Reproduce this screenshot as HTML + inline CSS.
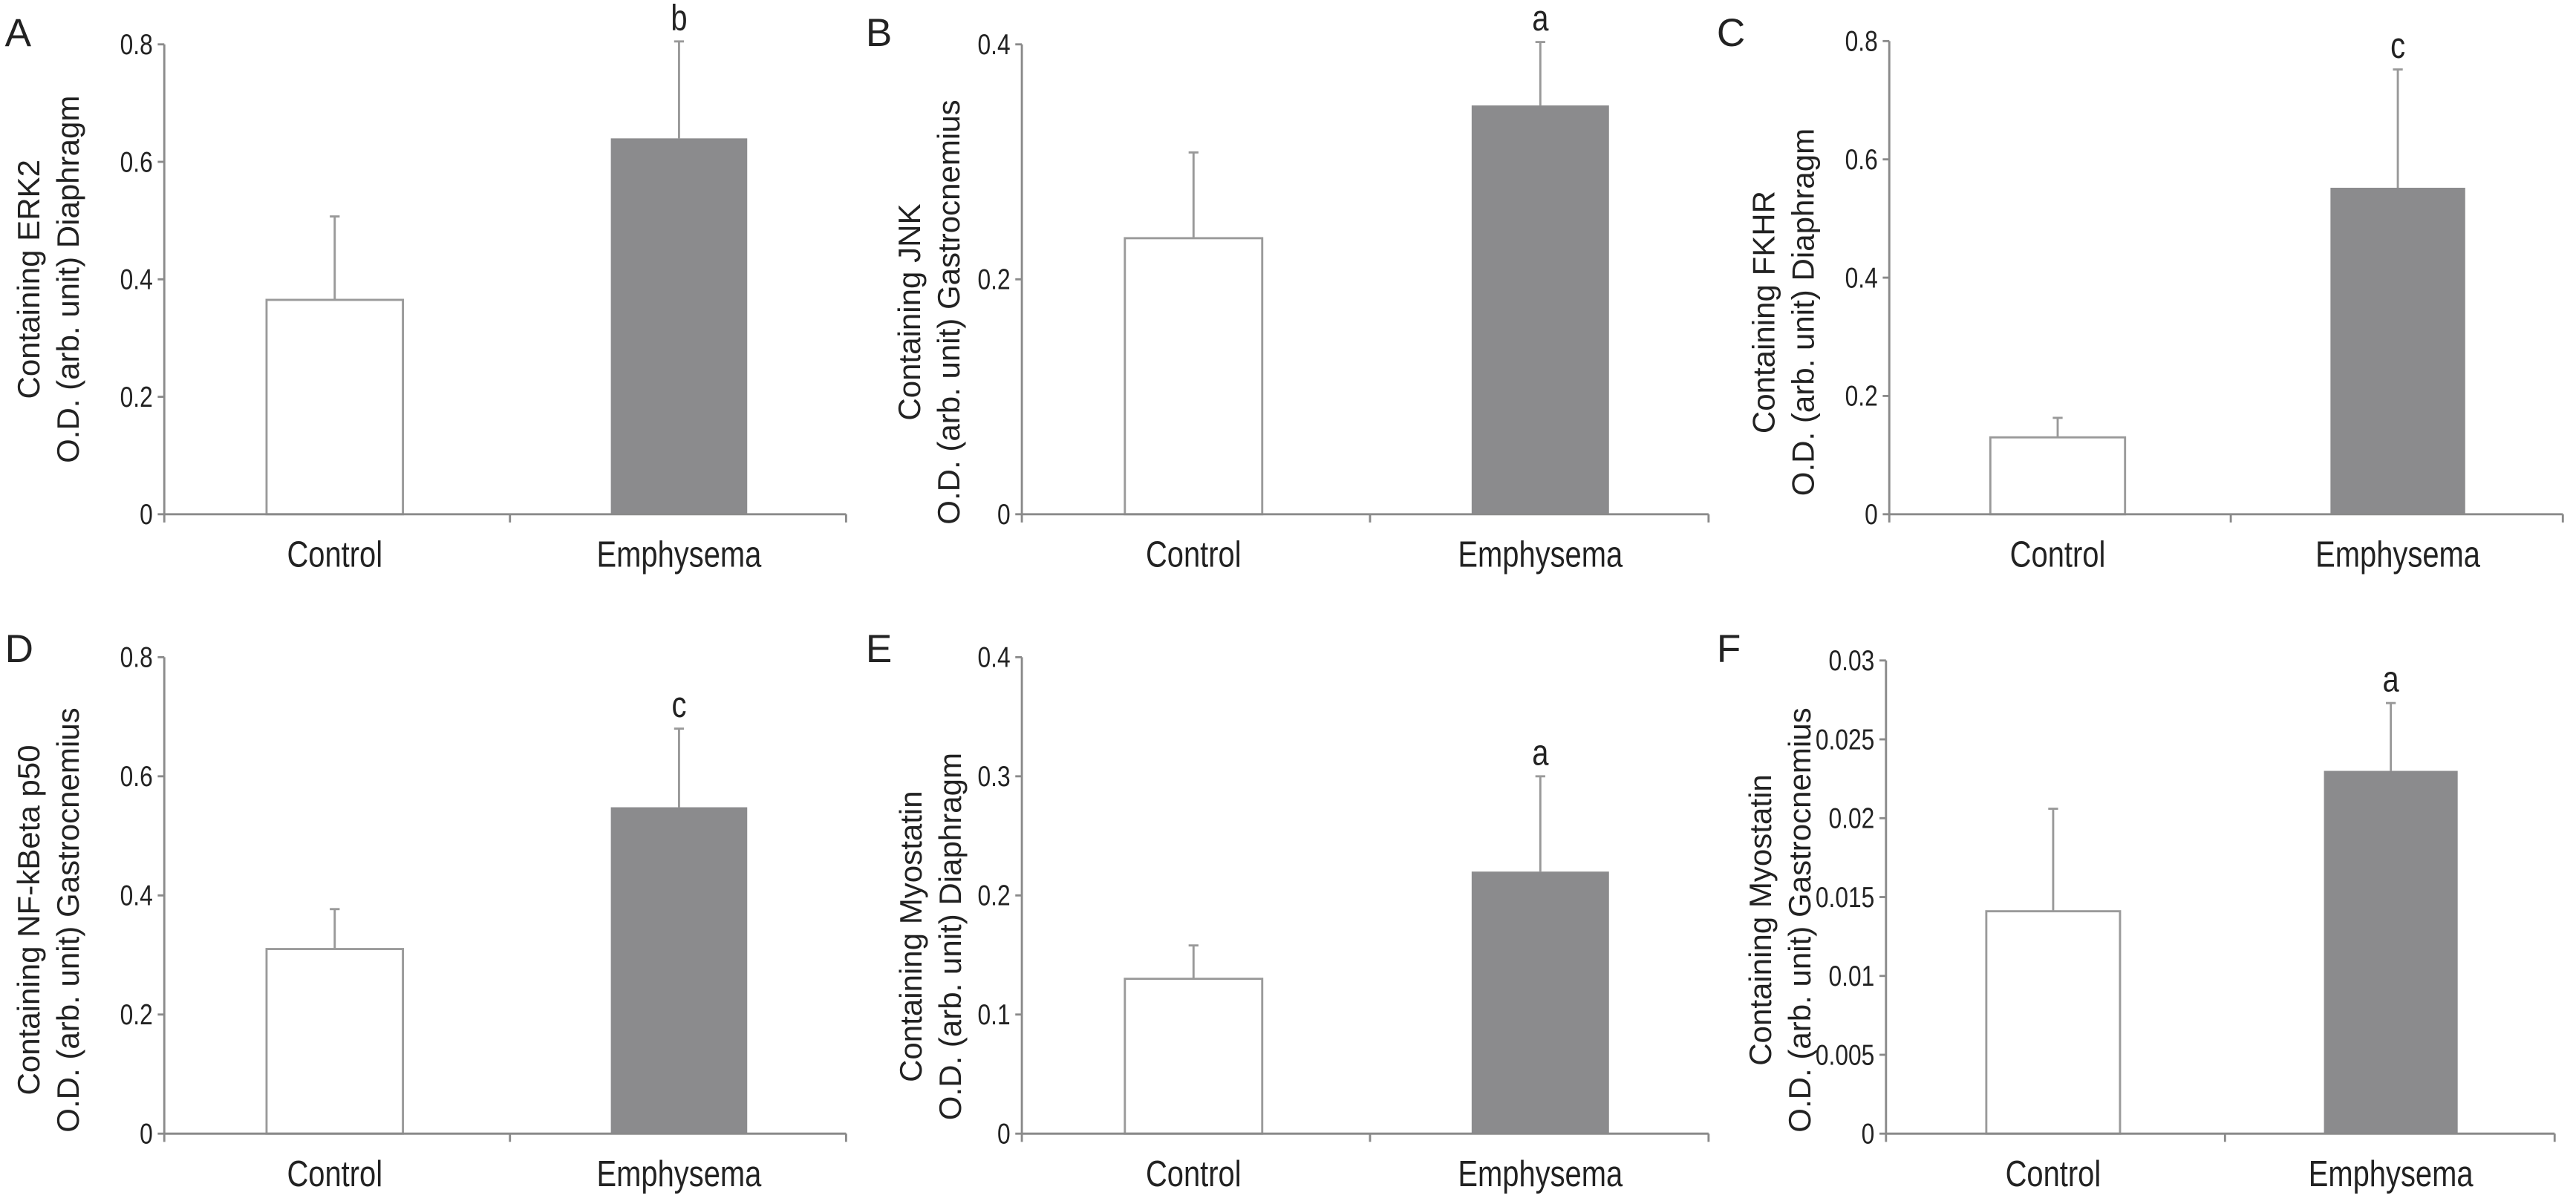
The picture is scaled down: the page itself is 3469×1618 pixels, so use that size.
<!DOCTYPE html>
<html><head><meta charset="utf-8"><style>
html,body{margin:0;padding:0;background:#fff;}
svg{display:block;}
text{font-family:"Liberation Sans Narrow","Liberation Sans",sans-serif;fill:#222;}
</style></head><body>
<svg id="fig" width="3469" height="1618" viewBox="0 0 1568 731" preserveAspectRatio="none"></svg>
<script>
const panelLetters = ["A","B","C","D","E","F"];
const categories = ["Control","Emphysema"];
const titleLine1 = ["Containing ERK2","Containing JNK","Containing FKHR","Containing NF-kBeta p50","Containing Myostatin","Containing Myostatin"];
const titleLine2 = ["O.D. (arb. unit) Diaphragm","O.D. (arb. unit) Gastrocnemius","O.D. (arb. unit) Diaphragm","O.D. (arb. unit) Gastrocnemius","O.D. (arb. unit) Diaphragm","O.D. (arb. unit) Gastrocnemius"];
const controlValues = [0.365, 0.235, 0.13, 0.31, 0.13, 0.0141];
const controlErrTop = [0.507, 0.308, 0.163, 0.377, 0.158, 0.0206];
const emphValues = [0.64, 0.348, 0.552, 0.548, 0.22, 0.023];
const emphErrTop = [0.805, 0.402, 0.752, 0.68, 0.30, 0.0273];
const sigLetters = ["b","a","c","c","a","a"];
const yMax = [0.8, 0.4, 0.8, 0.8, 0.4, 0.03];
const tickLabels = [
  ["0","0.2","0.4","0.6","0.8"],
  ["0","0.2","0.4"],
  ["0","0.2","0.4","0.6","0.8"],
  ["0","0.2","0.4","0.6","0.8"],
  ["0","0.1","0.2","0.3","0.4"],
  ["0","0.005","0.01","0.015","0.02","0.025","0.03"]
];
// layout (not data)
const layout = [
  {ax:100,x1:515,top:27,zero:313,lx:3,ly:28,tx:18,ty:170},
  {ax:622,x1:1040,top:27,zero:313,lx:527,ly:28,tx:554,ty:190},
  {ax:1150,x1:1560,top:25,zero:313,lx:1045,ly:28,tx:1074,ty:190},
  {ax:100,x1:515,top:400,zero:690,lx:3,ly:403,tx:18,ty:560},
  {ax:622,x1:1040,top:400,zero:690,lx:527,ly:403,tx:555,ty:570},
  {ax:1148,x1:1555,top:402,zero:690,lx:1045,ly:403,tx:1072,ty:560}
];
const NS="http://www.w3.org/2000/svg";
const svg=document.getElementById('fig');
function mk(tag,attrs,parent){const e=document.createElementNS(NS,tag);for(const k in attrs)e.setAttribute(k,attrs[k]);(parent||svg).appendChild(e);return e;}
function ctext(parent,x,y,anchor,size,str){
  const gg=mk('g',{transform:`translate(${x},${y}) scale(0.82,1)`},parent);
  const t=mk('text',{x:0,y:0,'text-anchor':anchor,'font-size':size},gg);t.textContent=str;return t;
}
for(let p=0;p<6;p++){
  const L=layout[p];
  const g=mk('g',{});
  
  
  const y=v=>L.zero-(v/yMax[p])*(L.zero-L.top);
  const w=L.x1-L.ax;
  const xf=f=>L.ax+f*w;
  const lt=mk('text',{x:L.lx,y:L.ly,'font-size':24},g);lt.textContent=panelLetters[p];
  
  
  const tg=mk('text',{transform:`translate(${L.tx},${L.ty}) rotate(-90)`,'text-anchor':'middle','font-size':19},g);
  
  
  const t1=mk('tspan',{x:0,y:6},tg);t1.textContent=titleLine1[p];
  const t2=mk('tspan',{x:0,y:30},tg);t2.textContent=titleLine2[p];
  const ya=mk('line',{x1:L.ax,y1:L.top,x2:L.ax,y2:L.zero+5,stroke:'#8a8a8a','stroke-width':1.3},g);
  
  
  const n=tickLabels[p].length;
  for(let i=0;i<n;i++){
    const v=yMax[p]*i/(n-1);const yy=y(v);
    mk('line',{x1:L.ax-4,y1:yy,x2:L.ax,y2:yy,stroke:'#8a8a8a','stroke-width':1.3},g);
    const tl=ctext(g,L.ax-7,yy+6,'end',17.5,tickLabels[p][i]);
    
    
  }
  const cx=[0.25,0.755];const bw=0.2*w;
  const vals=[controlValues[p],emphValues[p]];const errs=[controlErrTop[p],emphErrTop[p]];
  for(let c=0;c<2;c++){
    const x=xf(cx[c]);
    const el=mk('line',{x1:x,y1:y(errs[c]),x2:x,y2:y(vals[c]),stroke:'#999','stroke-width':1.3},g);
    
    
    mk('line',{x1:x-3,y1:y(errs[c]),x2:x+3,y2:y(errs[c]),stroke:'#999','stroke-width':1.3},g);
    const r=mk('rect',{x:x-bw/2,y:y(vals[c]),width:bw,height:L.zero-y(vals[c]),fill:c?'#8b8b8d':'#fff',stroke:c?'none':'#9a9a9a','stroke-width':1.3},g);
    
    
    const cl=ctext(g,x,L.zero+32,'middle',22,categories[c]);
    
    
  }
  const sl=ctext(g,xf(0.755),y(emphErrTop[p])-7,'middle',22,sigLetters[p]);
  
  
  const xa=mk('line',{x1:L.ax,y1:L.zero,x2:L.x1,y2:L.zero,stroke:'#8a8a8a','stroke-width':1.3},g);
  
  
  mk('line',{x1:xf(0.507),y1:L.zero,x2:xf(0.507),y2:L.zero+5,stroke:'#8a8a8a','stroke-width':1.3},g);
  mk('line',{x1:L.x1,y1:L.zero,x2:L.x1,y2:L.zero+5,stroke:'#8a8a8a','stroke-width':1.3},g);
}
</script>
</body></html>
